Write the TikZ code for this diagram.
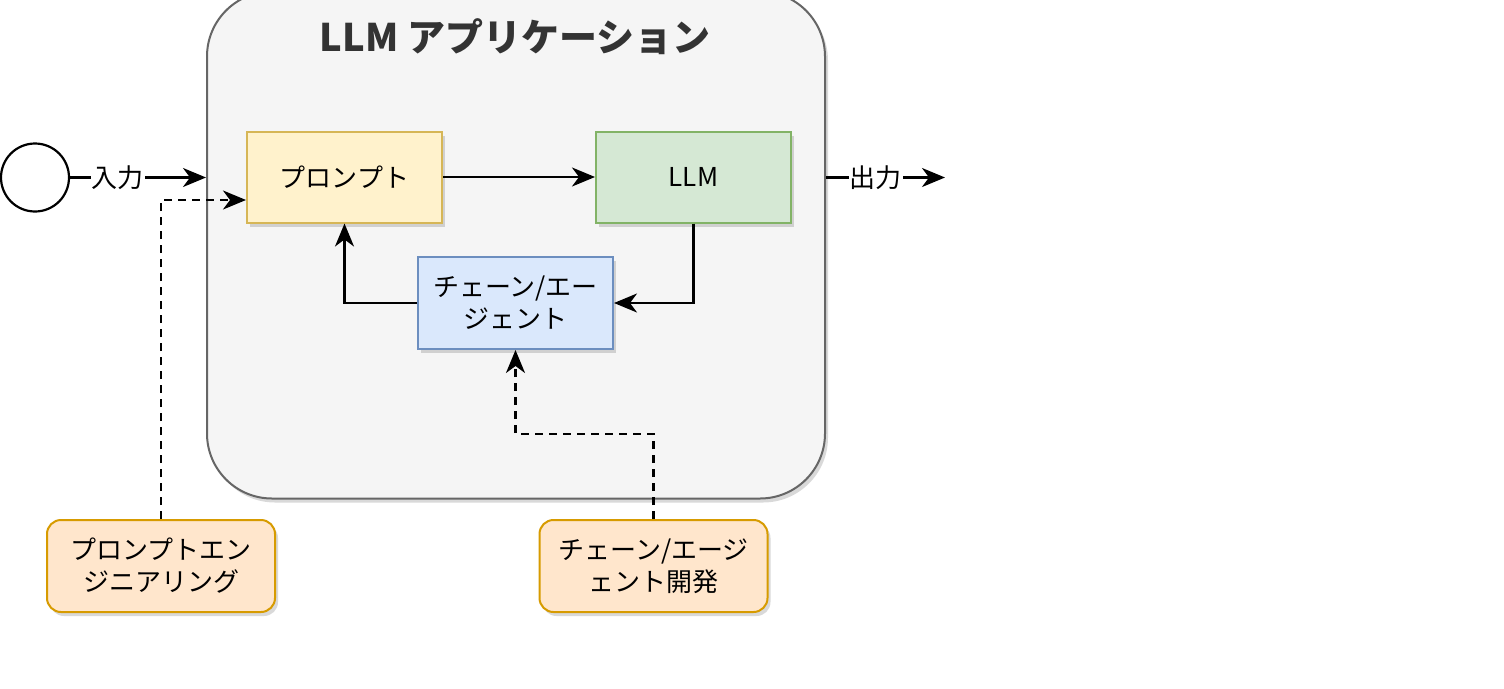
\documentclass[tikz,border=0pt]{standalone}
\usepackage{fontspec}
\setmainfont{Noto Sans CJK JP}
\usetikzlibrary{arrows.meta,shadows,positioning}
\definecolor{contfill}{HTML}{F5F5F5}
\definecolor{contdraw}{HTML}{666666}
\definecolor{yfill}{HTML}{FFF2CC}
\definecolor{ydraw}{HTML}{D6B656}
\definecolor{gfill}{HTML}{D5E8D4}
\definecolor{gdraw}{HTML}{82B366}
\definecolor{bfill}{HTML}{DAE8FC}
\definecolor{bdraw}{HTML}{6C8EBF}
\definecolor{ofill}{HTML}{FFE6CC}
\definecolor{odraw}{HTML}{D79B00}
\tikzset{
  x=1pt,y=-1pt,
  shad/.style={drop shadow={shadow xshift=3pt,shadow yshift=-4pt,opacity=0.15,fill=black}},
  box/.style={draw,line width=2pt,minimum width=195pt,minimum height=91pt,align=center,font=\fontsize{26}{32}\selectfont,shad},
  ybox/.style={box,fill=yfill,draw=ydraw},
  gbox/.style={box,fill=gfill,draw=gdraw},
  bbox/.style={box,fill=bfill,draw=bdraw},
  obox/.style={box,fill=ofill,draw=odraw,rounded corners=14pt,minimum width=228pt,minimum height=92pt},
  conn/.style={line width=2.2pt,-{Stealth[length=23pt,width=19pt,inset=7pt]}},
  dconn/.style={conn,dash pattern=on 8pt off 6pt},
  lbl/.style={fill=white,inner sep=1pt,font=\fontsize{26}{32}\selectfont}
}
\begin{document}
\begin{tikzpicture}
\useasboundingbox (0,0) rectangle (1504,688);
\fill[white] (0,0) rectangle (1504,688);
% container
\node[draw=contdraw,fill=contfill,line width=2pt,rounded corners=65pt,minimum width=618pt,minimum height=507pt,shad,inner sep=0pt] (app) at (516,245) {};
\node[font=\bfseries\fontsize{38}{42}\selectfont,text=black!80] (title) at (515,37) {LLM アプリケーション};
% circle
\node[draw,circle,line width=2.2pt,minimum size=68pt,inner sep=0pt] (in) at (35,177.5) {};
% boxes
\node[ybox] (prompt) at (344.5,177) {プロンプト};
\node[gbox] (llm) at (693.5,177) {LLM};
\node[bbox,minimum height=92pt] (chain) at (515.5,303) {チェーン/エー\\ジェント};
\node[obox] (pe) at (161,566) {プロンプトエン\\ジニアリング};
\node[obox] (cd) at (653.5,566) {チェーン/エージ\\ェント開発};
% coordinates
\coordinate (appin) at (app.west |- in);
\coordinate (appout) at (app.east |- in);
\coordinate (outend) at (945,177.5);
% connectors
\draw[conn] (in) -- node[lbl,pos=0.35]{入力} (appin);
\draw[conn] (appout) -- node[lbl,pos=0.42]{出力} (outend);
\draw[conn] (prompt) -- (llm);
\draw[conn] (llm.south) |- (chain.east);
\draw[conn] (chain.west) -| (prompt.south);
\draw[dconn] (pe.north) |- ([yshift=-23pt]prompt.west);
\draw[dconn] (cd.north) -- ++(0,-85) -| (chain.south);
\end{tikzpicture}
\end{document}
